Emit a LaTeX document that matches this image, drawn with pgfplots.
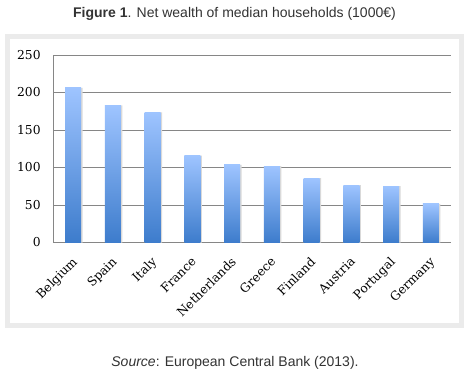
\documentclass[border=0pt]{standalone}
\usepackage{pgfplots}
\pgfplotsset{compat=1.18}
\usepackage{fontspec}
\setmainfont{Liberation Sans}
\newfontfamily\tickfont{DejaVu Serif}
\definecolor{framegray}{HTML}{EBEBEB}
\definecolor{gridgray}{HTML}{868686}
\definecolor{bartop}{HTML}{9EC4FF}
\definecolor{barbot}{HTML}{3D7CCC}
\definecolor{shadowgray}{HTML}{D9D9D9}
\definecolor{txt}{HTML}{333333}
\begin{document}
\begin{tikzpicture}[x=1bp,y=1bp]
\useasboundingbox (0,0) rectangle (476,371);
\fill[white] (0,0) rectangle (476,371);
\fill[framegray] (5,43) rectangle (464,337);
\fill[white] (10,48) rectangle (459,332);
\node[text=txt,font=\fontsize{14bp}{16bp}\selectfont] at (234.5,357) {\textbf{Figure 1}. Net wealth of median households (1000€)};
\node[text=txt,font=\fontsize{14bp}{16bp}\selectfont] at (235,8) {\textit{Source}: European Central Bank (2013).};
\begin{axis}[
  at={(53.3bp,128.5bp)}, anchor=south west,
  scale only axis, width=397.5bp, height=187.5bp,
  xmin=-0.5, xmax=9.5, ymin=0, ymax=250,
  ytick={0,50,100,150,200,250},
  xtick={0,...,9},
  xticklabels={Belgium,Spain,Italy,France,Netherlands,Greece,Finland,Austria,Portugal,Germany},
  axis x line*=bottom, axis y line*=left,
  axis line style={gridgray, line width=0.8bp, -},
  ymajorgrids, grid style={gridgray, line width=0.8bp},
  major tick length=0pt,
  tick label style={font=\tickfont\fontsize{12.3bp}{14bp}\selectfont, text=black},
  yticklabel style={anchor=east, inner sep=0pt, xshift=-12.5bp},
  xticklabel style={xshift=-2bp, yshift=-13.5bp, rotate=45, anchor=north east, inner sep=0pt},
  /pgf/number format/assume math mode=true,
  every axis plot/.append style={ybar, bar width=16bp, draw=none, forget plot},
]
\addplot[bar shift=1.5bp, fill=shadowgray] coordinates {(0,206.2) (1,182.7) (2,173.5) (3,115.8) (4,103.6) (5,101.9) (6,85.8) (7,76.4) (8,75.2) (9,51.4)};
\addplot[bar shift=0pt, top color=bartop, bottom color=barbot] coordinates {(0,206.2)};
\addplot[bar shift=0pt, top color=bartop, bottom color=barbot] coordinates {(1,182.7)};
\addplot[bar shift=0pt, top color=bartop, bottom color=barbot] coordinates {(2,173.5)};
\addplot[bar shift=0pt, top color=bartop, bottom color=barbot] coordinates {(3,115.8)};
\addplot[bar shift=0pt, top color=bartop, bottom color=barbot] coordinates {(4,103.6)};
\addplot[bar shift=0pt, top color=bartop, bottom color=barbot] coordinates {(5,101.9)};
\addplot[bar shift=0pt, top color=bartop, bottom color=barbot] coordinates {(6,85.8)};
\addplot[bar shift=0pt, top color=bartop, bottom color=barbot] coordinates {(7,76.4)};
\addplot[bar shift=0pt, top color=bartop, bottom color=barbot] coordinates {(8,75.2)};
\addplot[bar shift=0pt, top color=bartop, bottom color=barbot] coordinates {(9,51.4)};
\end{axis}
\end{tikzpicture}
\end{document}
